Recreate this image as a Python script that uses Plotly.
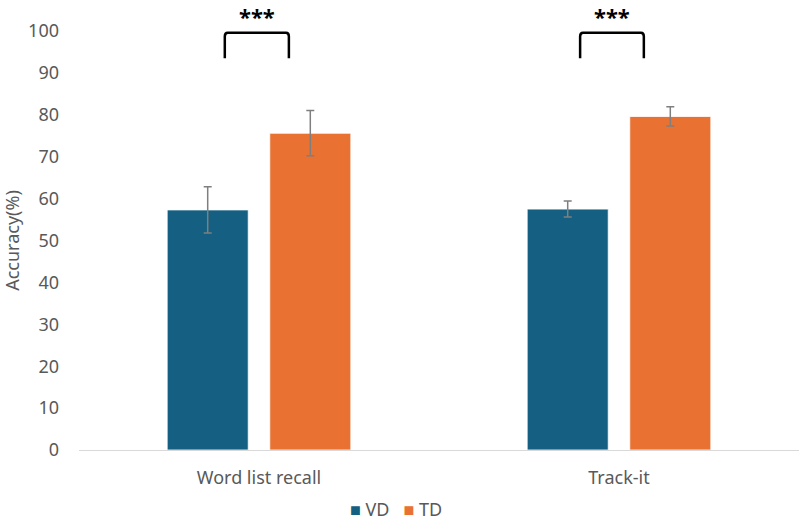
import plotly.graph_objects as go

categories = ["Word list recall", "Track-it"]
series_names = ["VD", "TD"]
vd_values = [57.3, 57.5]
vd_err = [5.5, 1.9]
td_values = [75.6, 79.6]
td_err = [5.4, 2.3]
sig_labels = ["***", "***"]
y_ticks = [0, 10, 20, 30, 40, 50, 60, 70, 80, 90, 100]

x_pos = list(range(len(categories)))
FONT = "Noto Sans"
GRAY = "#595959"
FS = 18
COLORS = ["#156082", "#E97132"]

fig = go.Figure()
for name, vals, errs, col in zip(series_names, [vd_values, td_values], [vd_err, td_err], COLORS):
    fig.add_trace(go.Bar(
        name=name, x=x_pos, y=vals, showlegend=False,
        marker=dict(color=col, line=dict(color="white", width=0.8)),
        error_y=dict(type="data", array=errs, color="#7F7F7F", thickness=1.5, width=4),
    ))

# significance brackets
offsets = [(-0.095, 0.083), (-0.108, 0.069)]
y_top, y_bot = 99.6, 93.5
for i, (dl, dr) in enumerate(offsets):
    x0, x1 = x_pos[i] + dl, x_pos[i] + dr
    r = 0.008
    path = (f"M {x0},{y_bot} L {x0},{y_top-0.9} Q {x0},{y_top} {x0+r},{y_top} "
            f"L {x1-r},{y_top} Q {x1},{y_top} {x1},{y_top-0.9} L {x1},{y_bot}")
    fig.add_shape(type="path", path=path, xref="x", yref="y",
                  line=dict(color="black", width=2.5))
    fig.add_annotation(x=(x0 + x1) / 2, y=y_top, yshift=17, yanchor="middle",
                       text=f"<b>{sig_labels[i]}</b>", showarrow=False,
                       font=dict(size=22, color="black", family=FONT))

# legend (bottom centre)
legend_text = "&nbsp;&nbsp;&nbsp;".join(
    f"<span style='color:{c}'>■</span>&nbsp;{n}" for n, c in zip(series_names, COLORS)
)
fig.add_annotation(x=(396 - 79) / 720, y=(450 - 509) / 419, xref="paper", yref="paper",
                   showarrow=False, text=legend_text,
                   font=dict(size=FS, color=GRAY, family=FONT),
                   xanchor="center", yanchor="middle")

fig.update_layout(
    width=800, height=522,
    margin=dict(l=79, r=1, t=31, b=72),
    paper_bgcolor="white", plot_bgcolor="white",
    barmode="group", bargap=0.43, bargroupgap=0.21,
    font=dict(family=FONT, size=FS, color=GRAY),
)

fig.update_xaxes(
    tickmode="array", tickvals=x_pos, ticktext=categories,
    range=[-0.5, 1.5], showgrid=False, zeroline=False, automargin=False,
    showline=False, ticks="", ticklabelstandoff=15,
    tickfont=dict(size=FS, color=GRAY),
)
fig.update_yaxes(
    range=[0, 100], tickvals=y_ticks, showgrid=False, automargin=False,
    zeroline=True, zerolinecolor="#D9D9D9", zerolinewidth=1.2,
    showline=False, ticks="", ticklabelstandoff=19,
    tickfont=dict(size=FS, color=GRAY),
    title=dict(text="Accuracy(%)", font=dict(size=FS, color=GRAY), standoff=4),
)

fig.write_html("out.html", config={"displayModeBar": False},
               post_script="document.body.style.margin='0';document.body.style.padding='0';")
